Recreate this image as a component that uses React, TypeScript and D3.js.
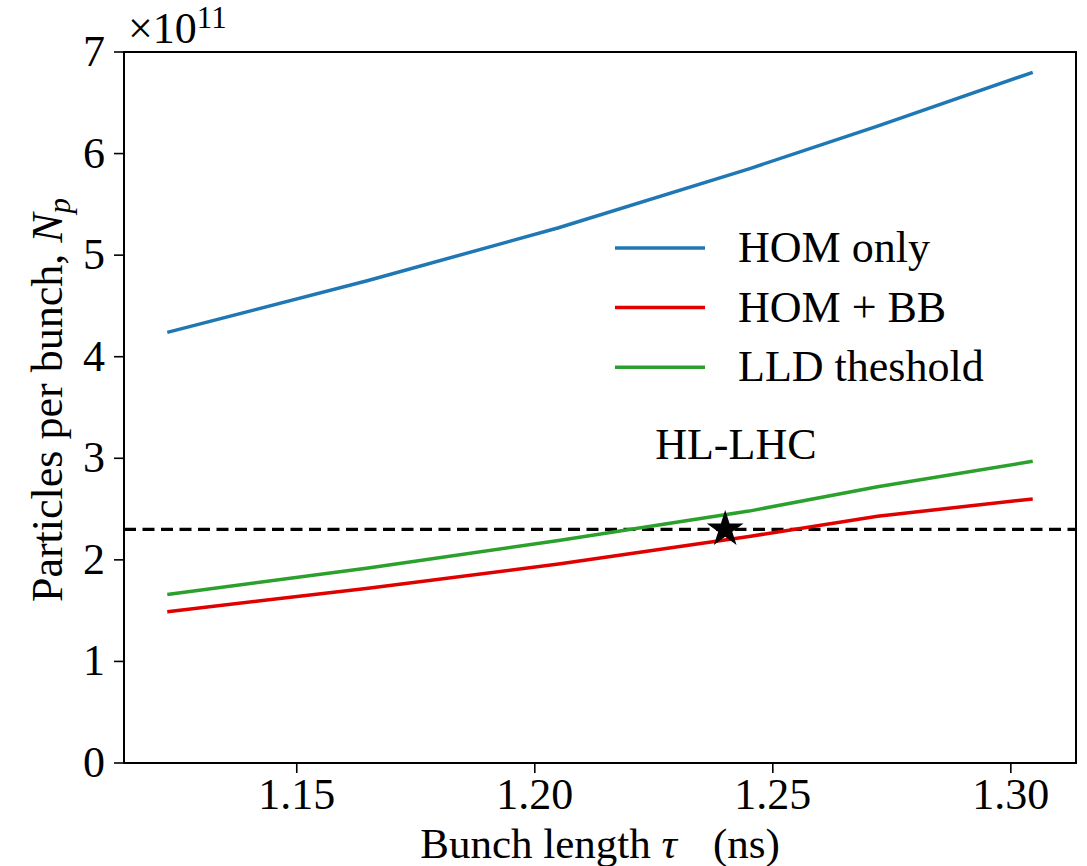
import React from "react";
import * as d3 from "d3";

const bunchLength = [1.1228, 1.165, 1.205, 1.245, 1.272, 1.3046];
const homOnly = [4.24, 4.75, 5.27, 5.85, 6.27, 6.8];
const homBB = [1.49, 1.72, 1.96, 2.23, 2.43, 2.6];
const lldThreshold = [1.66, 1.92, 2.19, 2.48, 2.72, 2.97];
const hlLhcNp = 2.3;
const hlLhcTau = 1.24;
const xTicks = [1.15, 1.2, 1.25, 1.3];
const yTicks = [0, 1, 2, 3, 4, 5, 6, 7];
const seriesNames = ["HOM only", "HOM + BB", "LLD theshold"];
const seriesColors = ["#1f77b4", "#e00000", "#2ca02c"];

const W = 1087;
const H = 866;
const M = { left: 124, right: 1076, top: 52, bottom: 763 };
const FAM = "Liberation Serif";
const TS = { fontFamily: FAM };
const FS = 44;

export default function App() {
  const pad = (bunchLength[bunchLength.length - 1] - bunchLength[0]) * 0.05;
  const x = d3
    .scaleLinear()
    .domain([bunchLength[0] - pad, bunchLength[bunchLength.length - 1] + pad])
    .range([M.left, M.right]);
  const y = d3.scaleLinear().domain([0, 7]).range([M.bottom, M.top]);
  const line = d3
    .line<[number, number]>()
    .x((d) => x(d[0]))
    .y((d) => y(d[1]));
  const series = [homOnly, homBB, lldThreshold];
  const star = d3.symbol().type(d3.symbolStar).size(420)();

  return (
    <svg
      width={W}
      height={H}
      fontFamily={FAM}
      style={{ position: "absolute", left: 0, top: 0, display: "block", background: "#fff", fontFamily: FAM }}
    >
      <style>{`svg text, svg tspan { font-family: "Liberation Serif", "Times New Roman", serif !important; }`}</style>
      <rect width={W} height={H} fill="#fff" />
      <line
        x1={M.left}
        x2={M.right}
        y1={y(hlLhcNp)}
        y2={y(hlLhcNp)}
        stroke="#000"
        strokeWidth={3.4}
        strokeDasharray="12,6.5"
      />
      {series.map((s, i) => (
        <path
          key={i}
          d={line(bunchLength.map((b, j) => [b, s[j]] as [number, number])) || ""}
          fill="none"
          stroke={seriesColors[i]}
          strokeWidth={3.5}
        />
      ))}
      <path d={star} transform={`translate(${x(hlLhcTau)},${y(hlLhcNp)})`} fill="#000" />
      <text x={x(1.2253)} y={y(2.99)} fontSize={FS} fill="#000" fontFamily={FAM} style={TS}>
        HL-LHC
      </text>
      <rect
        x={M.left}
        y={M.top}
        width={M.right - M.left}
        height={M.bottom - M.top}
        fill="none"
        stroke="#000"
        strokeWidth={2}
      />
      {xTicks.map((t) => (
        <g key={t}>
          <line x1={x(t)} x2={x(t)} y1={M.bottom} y2={M.bottom + 10} stroke="#000" strokeWidth={1.6} />
          <text x={x(t)} y={M.bottom + 46} fontSize={FS} textAnchor="middle" fontFamily={FAM} style={TS}>
            {d3.format(".2f")(t)}
          </text>
        </g>
      ))}
      {yTicks.map((t) => (
        <g key={t}>
          <line x1={M.left - 10} x2={M.left} y1={y(t)} y2={y(t)} stroke="#000" strokeWidth={1.6} />
          <text x={M.left - 19} y={y(t) + 14} fontSize={FS} textAnchor="end" fontFamily={FAM} style={TS}>
            {t}
          </text>
        </g>
      ))}
      <text x={128} y={43} fontSize={FS} fontFamily={FAM} style={TS}>
        ×10
        <tspan fontSize={31} dy={-15}>
          11
        </tspan>
      </text>
      <text x={(M.left + M.right) / 2} y={858} fontSize={43} textAnchor="middle" fontFamily={FAM} style={TS}>
        Bunch length <tspan fontStyle="italic">τ</tspan>
        <tspan dx={36}>(ns)</tspan>
      </text>
      <text transform={`translate(62,400) rotate(-90)`} fontSize={FS} textAnchor="middle" fontFamily={FAM} style={TS}>
        Particles per bunch, <tspan fontStyle="italic">N</tspan>
        <tspan fontStyle="italic" fontSize={31} dy={8}>
          p
        </tspan>
      </text>
      {seriesNames.map((n, i) => (
        <g key={n} transform={`translate(615,${248 + i * 59.6})`}>
          <line x1={0} x2={90} y1={0} y2={0} stroke={seriesColors[i]} strokeWidth={3.5} />
          <text x={123} y={14} fontSize={FS} fontFamily={FAM} style={TS}>
            {n}
          </text>
        </g>
      ))}
    </svg>
  );
}
